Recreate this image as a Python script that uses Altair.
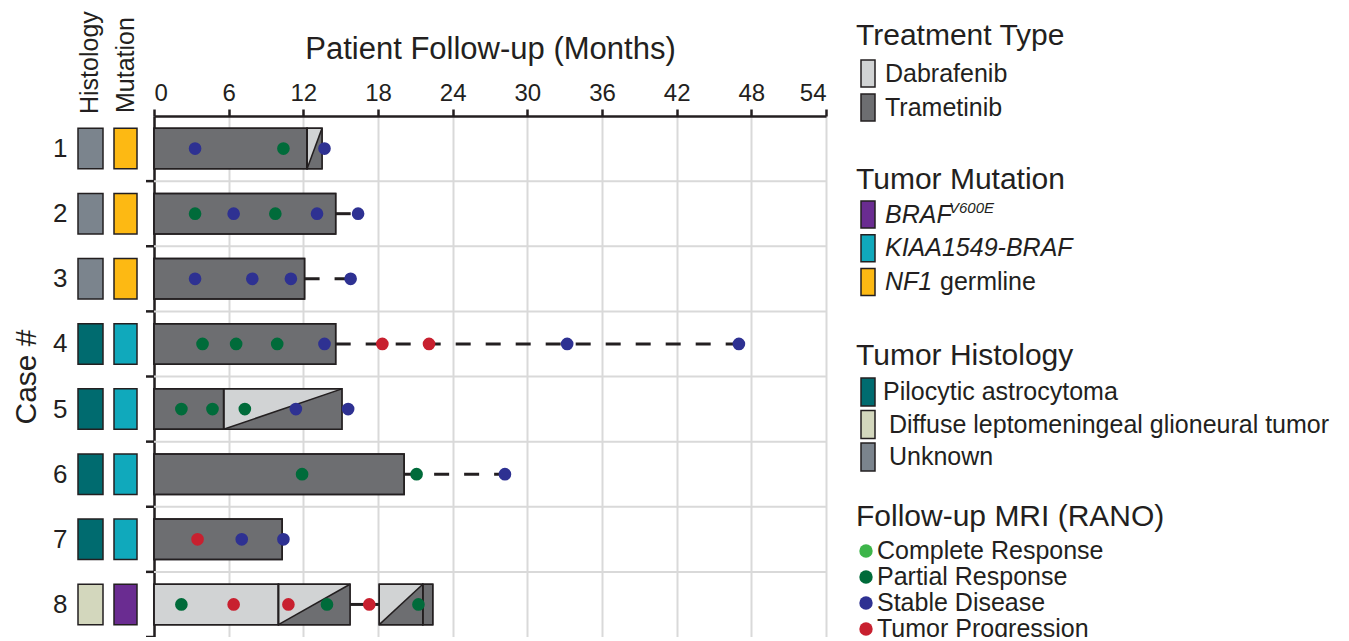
import altair as alt
import pandas as pd

# ---------------- data ----------------
cases = [1, 2, 3, 4, 5, 6, 7, 8]
histology = ["Unknown", "Unknown", "Unknown",
             "Pilocytic astrocytoma", "Pilocytic astrocytoma",
             "Pilocytic astrocytoma", "Pilocytic astrocytoma",
             "Diffuse leptomeningeal glioneural tumor"]
mutation = ["NF1 germline", "NF1 germline", "NF1 germline",
            "KIAA1549-BRAF", "KIAA1549-BRAF", "KIAA1549-BRAF", "KIAA1549-BRAF",
            "BRAF V600E"]

# treatment segments (months)
seg_case = [1, 1, 2, 3, 4, 5, 5, 6, 7, 8, 8, 8, 8]
seg_start = [0, 12.3, 0, 0, 0, 0, 5.6, 0, 0, 0, 10.0, 18.1, 21.6]
seg_end = [12.3, 13.5, 14.6, 12.1, 14.6, 5.6, 15.1, 20.1, 10.3, 10.0, 15.75, 21.6, 22.4]
seg_type = ["Trametinib", "Combination", "Trametinib", "Trametinib", "Trametinib",
            "Trametinib", "Combination", "Trametinib", "Trametinib",
            "Dabrafenib", "Combination", "Combination", "Trametinib"]

# off-treatment follow-up connectors
conn_case = [2, 3, 4, 6, 8]
conn_start = [14.6, 12.1, 14.6, 20.1, 15.75]
conn_end = [16.4, 15.8, 47.0, 28.2, 18.1]
conn_style = ["dashed", "dashed", "dashed", "dashed", "solid"]

# follow-up MRI assessments
SD, PR, TP, CR = "Stable Disease", "Partial Response", "Tumor Progression", "Complete Response"
mri_case = [1, 1, 1,
            2, 2, 2, 2, 2,
            3, 3, 3, 3,
            4, 4, 4, 4, 4, 4, 4, 4,
            5, 5, 5, 5, 5,
            6, 6, 6,
            7, 7, 7,
            8, 8, 8, 8, 8, 8]
mri_month = [3.3, 10.4, 13.7,
             3.3, 6.4, 9.75, 13.1, 16.4,
             3.3, 7.9, 11.0, 15.8,
             3.9, 6.6, 9.9, 13.7, 18.35, 22.1, 33.2, 47.0,
             2.2, 4.7, 7.3, 11.4, 15.6,
             11.9, 21.1, 28.2,
             3.5, 7.05, 10.4,
             2.2, 6.4, 10.8, 13.9, 17.3, 21.25]
mri_result = [SD, PR, SD,
              PR, SD, PR, SD, SD,
              SD, SD, SD, SD,
              PR, PR, PR, SD, TP, TP, SD, SD,
              PR, PR, PR, SD, SD,
              PR, PR, SD,
              TP, SD, SD,
              PR, TP, TP, PR, TP, PR]

x_ticks = [0, 6, 12, 18, 24, 30, 36, 42, 48, 54]

treat_labels = ["Dabrafenib", "Trametinib"]
hist_labels = ["Pilocytic astrocytoma", "Diffuse leptomeningeal glioneural tumor", "Unknown"]
mri_labels = [CR, PR, SD, TP]

# ---------------- style ----------------
FONT = "Liberation Sans"
INK = "#231F20"
LIGHT = "#D1D3D4"
DARK = "#6D6E71"
GRID = "#D9D9D9"
H = 0.31  # half bar height in case units
hist_colors = {"Pilocytic astrocytoma": "#006B6F",
               "Diffuse leptomeningeal glioneural tumor": "#D3D7BD",
               "Unknown": "#7B848D"}
mut_colors = {"BRAF V600E": "#6A2C91", "KIAA1549-BRAF": "#10A9BC", "NF1 germline": "#FDB913"}
mri_colors = {CR: "#3DB54A", PR: "#006B3A", SD: "#2E3192", TP: "#C8202F"}
treat_colors = {"Dabrafenib": LIGHT, "Trametinib": DARK}

W, HGT = 672, 521

# ---------------- tables ----------------
seg_df = pd.DataFrame({"case": seg_case, "start": seg_start, "end": seg_end, "type": seg_type})
seg_df["top"] = seg_df["case"] - H
seg_df["bot"] = seg_df["case"] + H
comb = seg_df[seg_df["type"] == "Combination"]
tri_rows = []
for i, r in comb.iterrows():
    tri_rows.append({"id": int(i), "x": r["start"], "ya": r["bot"], "yb": r["bot"]})
    tri_rows.append({"id": int(i), "x": r["end"], "ya": r["top"], "yb": r["bot"]})
tri_df = pd.DataFrame(tri_rows)

conn_df = pd.DataFrame({"case": conn_case, "start": conn_start, "end": conn_end, "style": conn_style})
mri_df = pd.DataFrame({"case": mri_case, "month": mri_month, "result": mri_result})
side_df = pd.DataFrame({"case": cases, "histology": histology, "mutation": mutation})
side_df["top"] = side_df["case"] - H
side_df["bot"] = side_df["case"] + H
bound_df = pd.DataFrame({"b": [c + 0.5 for c in cases]})

xscale = alt.Scale(domain=[0, 54], nice=False, zero=False)
yscale = alt.Scale(domain=[0.5, 8.5], reverse=True, nice=False, zero=False)

X_AXIS = alt.Axis(
    orient="top", values=x_ticks, format="d", title="Patient Follow-up (Months)",
    titleFontSize=31, titleFont=FONT, titleFontWeight="normal", titleColor=INK, titlePadding=16,
    labelFontSize=24, labelFont=FONT, labelColor=INK, labelPadding=4,
    tickSize=7, tickWidth=2.5, tickColor=INK, domainWidth=2.5, domainColor=INK,
    grid=True, gridColor=GRID, gridWidth=2)
Y_AXIS = alt.Axis(
    orient="left", values=cases, format="d", title="Case #",
    titleFontSize=30, titleFont=FONT, titleFontWeight="normal", titleColor=INK, titlePadding=11,
    labelFontSize=26, labelFont=FONT, labelColor=INK, labelPadding=87,
    ticks=False, grid=False, domainWidth=2.5, domainColor=INK)


def X(f, **k):
    return alt.X(f, scale=xscale, axis=X_AXIS, **k)


def Yq(f, **k):
    return alt.Y(f, scale=yscale, axis=Y_AXIS, **k)


# grid (horizontal) -- drawn first
hgrid = alt.Chart(bound_df[bound_df["b"] < 8.5]).mark_rule(color=GRID, strokeWidth=2).encode(
    x=alt.value(0), x2=alt.value(W), y=Yq("b:Q"))

# y ticks at band boundaries
yticks = alt.Chart(bound_df).mark_rule(color=INK, strokeWidth=2.5).encode(
    x=alt.value(-8), x2=alt.value(0), y=Yq("b:Q"))

# side columns
hist_boxes = alt.Chart(side_df).mark_rect(stroke=INK, strokeWidth=1.5).encode(
    x=alt.value(-76), x2=alt.value(-51), y=Yq("top:Q"), y2="bot:Q",
    fill=alt.Fill("histology:N", legend=None,
                  scale=alt.Scale(domain=list(hist_colors), range=list(hist_colors.values()))))
mut_boxes = alt.Chart(side_df).mark_rect(stroke=INK, strokeWidth=1.5).encode(
    x=alt.value(-40), x2=alt.value(-17), y=Yq("top:Q"), y2="bot:Q",
    fill=alt.Fill("mutation:N", legend=None,
                  scale=alt.Scale(domain=list(mut_colors), range=list(mut_colors.values()))))

# treatment bars
bars = alt.Chart(seg_df).mark_rect(stroke=INK, strokeWidth=1.5).encode(
    x=X("start:Q"), x2="end:Q", y=Yq("top:Q"), y2="bot:Q",
    fill=alt.Fill("type:N", legend=None,
                  scale=alt.Scale(domain=["Dabrafenib", "Trametinib", "Combination"],
                                  range=[LIGHT, DARK, LIGHT])))
tri = alt.Chart(tri_df).mark_area(orient="vertical", color=DARK, interpolate="linear").encode(
    x=X("x:Q"), y=Yq("ya:Q", stack=None), y2="yb:Q", detail="id:N")
diag = alt.Chart(comb).mark_rule(color=INK, strokeWidth=1.5).encode(
    x=X("start:Q"), x2="end:Q", y=Yq("bot:Q"), y2="top:Q")
outline = alt.Chart(seg_df).mark_rect(fillOpacity=0, stroke=INK, strokeWidth=1.5).encode(
    x=X("start:Q"), x2="end:Q", y=Yq("top:Q"), y2="bot:Q")

# connectors
dashed = alt.Chart(conn_df[conn_df["style"] == "dashed"]).mark_rule(
    color=INK, strokeWidth=3, strokeDash=[15, 15]).encode(
    x=X("start:Q"), x2="end:Q", y=Yq("case:Q"))
solid = alt.Chart(conn_df[conn_df["style"] == "solid"]).mark_rule(
    color=INK, strokeWidth=3).encode(
    x=X("start:Q"), x2="end:Q", y=Yq("case:Q"))

dots = alt.Chart(mri_df).mark_circle(size=160, opacity=1).encode(
    x=X("month:Q"), y=Yq("case:Q"),
    color=alt.Color("result:N", legend=None,
                    scale=alt.Scale(domain=list(mri_colors), range=list(mri_colors.values()))))


# ---------------- text / legend helpers ----------------
def txt(s, x, y, size, style="normal", baseline="middle", angle=0):
    return alt.Chart(alt.Data(values=[{"t": s}])).mark_text(
        align="left", baseline=baseline, fontSize=size, fontStyle=style, font=FONT,
        color=INK, angle=angle).encode(x=alt.value(x), y=alt.value(y), text="t:N")


def swatch(color, x1, x2, y1, y2):
    return alt.Chart(alt.Data(values=[{"a": 1}])).mark_rect(
        fill=color, stroke=INK, strokeWidth=1.5).encode(
        x=alt.value(x1), x2=alt.value(x2), y=alt.value(y1), y2=alt.value(y2))


def dot(color, x, y):
    return alt.Chart(alt.Data(values=[{"a": 1}])).mark_circle(
        size=180, opacity=1, color=color).encode(x=alt.value(x), y=alt.value(y))


legend = []
# column headers
legend.append(txt("Histology", -64, -2, 25, angle=270))
legend.append(txt("Mutation", -28, -3, 25, angle=270))

LX, SW0, SW1, TX = 702, 707, 721, 731
TS, LS = 30, 25
# Treatment type
legend.append(txt("Treatment Type", LX, -71, TS, baseline="alphabetic"))
for i, lab in enumerate(treat_labels):
    cy = -42.5 + 34 * i
    legend.append(swatch(treat_colors[lab], SW0, SW1, cy - 13.5, cy + 13.5))
    legend.append(txt(lab, TX, cy, LS))
# Tumor mutation
legend.append(txt("Tumor Mutation", LX, 73, TS, baseline="alphabetic"))
mut_order = ["BRAF V600E", "KIAA1549-BRAF", "NF1 germline"]
for i, lab in enumerate(mut_order):
    cy = 98.5 + 33.7 * i
    legend.append(swatch(mut_colors[lab], SW0, SW1, cy - 13.5, cy + 13.5))
legend.append(txt("BRAF", TX, 98.5, LS, style="italic"))
legend.append(txt("V600E", TX + 64, 92, 15, style="italic"))
legend.append(txt("KIAA1549-BRAF", TX, 98.5 + 33.7, LS, style="italic"))
legend.append(txt("NF1", TX, 98.5 + 67.4, LS, style="italic"))
legend.append(txt("germline", TX + 55, 98.5 + 67.4, LS))
# Tumor histology
legend.append(txt("Tumor Histology", LX, 249, TS, baseline="alphabetic"))
for i, lab in enumerate(hist_labels):
    cy = 276 + 32.5 * i
    legend.append(swatch(hist_colors[lab], SW0, SW1, cy - 14, cy + 14))
    legend.append(txt(lab, TX - 2 if i == 0 else TX + 4, cy, LS))
# Follow-up MRI
legend.append(txt("Follow-up MRI (RANO)", LX, 410, TS, baseline="alphabetic"))
for i, lab in enumerate(mri_labels):
    cy = 435 + 26 * i
    legend.append(dot(mri_colors[lab], 712, cy))
    legend.append(txt(lab, 723, cy, 25))

chart = alt.layer(
    hgrid, yticks, hist_boxes, mut_boxes, bars, tri, diag, outline,
    dashed, solid, dots, *legend
).resolve_scale(fill="independent", color="independent").properties(
    width=W, height=HGT,
    padding={"left": 146, "top": 108, "right": 515, "bottom": 0},
    autosize=alt.AutoSizeParams(type="none"),
).configure_view(stroke=None).configure(background="white")

chart.save("out.html", embed_options={"renderer": "svg", "actions": False})
